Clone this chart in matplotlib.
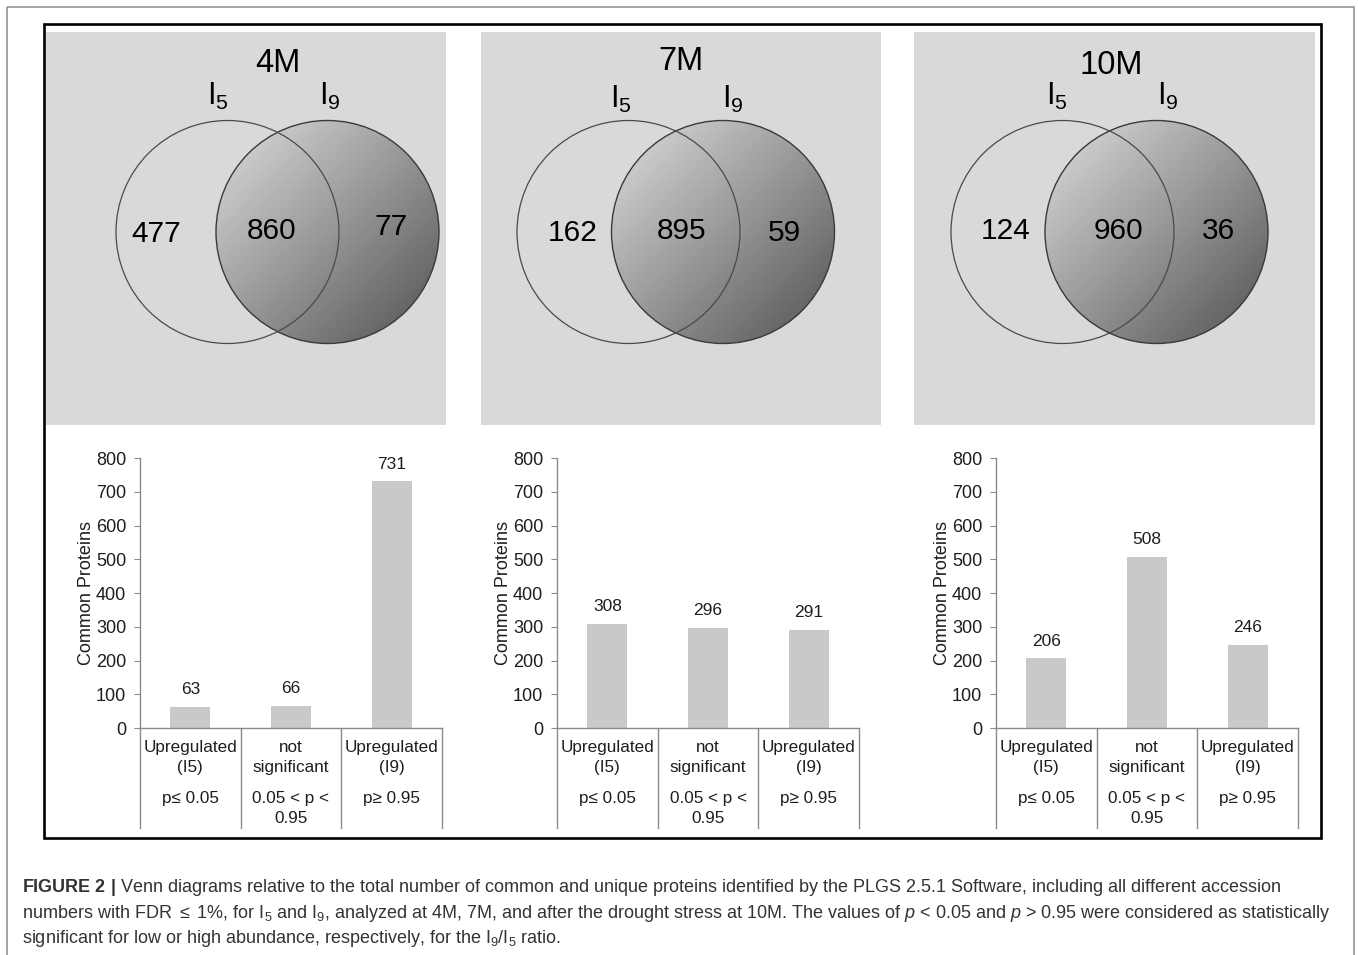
import numpy as np
import matplotlib
matplotlib.use('Agg')
import matplotlib.pyplot as plt
from matplotlib.patches import Circle, Rectangle
from matplotlib.transforms import blended_transform_factory

plt.rcParams['font.family'] = ['Liberation Sans', 'DejaVu Sans']
plt.rcParams['mathtext.fontset'] = 'custom'
plt.rcParams['mathtext.rm'] = 'Liberation Sans'
plt.rcParams['mathtext.it'] = 'Liberation Sans:italic'
plt.rcParams['mathtext.bf'] = 'Liberation Sans:bold'

# time points
months = ['4M', '7M', '10M']

# Venn counts: proteins only in I5, shared, only in I9
only_i5 = [477, 162, 124]
shared = [860, 895, 960]
only_i9 = [77, 59, 36]

# common proteins split by abundance ratio
categories = ['Upregulated\n(I5)', 'not\nsignificant', 'Upregulated\n(I9)']
p_ranges = ['p\u2264 0.05', '0.05 < p <\n0.95', 'p\u2265 0.95']
up_i5 = [63, 308, 206]
not_sig = [66, 296, 508]
up_i9 = [731, 291, 246]

W, H = 1358, 955
fig = plt.figure(figsize=(W / 100, H / 100), dpi=100)

# background canvas in pixel units (y grows downward)
canvas = fig.add_axes([0, 0, 1, 1])
canvas.set_xlim(0, W)
canvas.set_ylim(H, 0)
canvas.axis('off')

canvas.add_patch(Rectangle((7, 7), 1347, 1000, fill=False, ec='#8c8c8c', lw=1.1))
canvas.add_patch(Rectangle((43.5, 24.5), 1277.5, 813.5, fill=False, ec='black', lw=1.9, zorder=5))

# layout of each Venn panel (pixels)
panel_x = [46, 481, 914]
panel_w = [400, 400, 401]
left_cx = [227.5, 628.5, 1062.5]
right_cx = [327.5, 723.0, 1156.5]
circle_cy = 232
radius = 111.5
title_pos = [(278, 64), (681, 62), (1111, 65)]
i5_pos = [(218, 96), (621, 99), (1057, 96)]
i9_pos = [(330, 96), (733, 99), (1168, 96)]
n5_pos = [(156, 234), (573, 233), (1006, 231)]
nsh_pos = [(272, 231), (682, 231), (1118, 231)]
n9_pos = [(391, 227), (784, 233), (1218, 231)]

for k in range(3):
    canvas.add_patch(Rectangle((panel_x[k], 32), panel_w[k], 393, color='#d9d9d9', lw=0))

    # I9 circle with diagonal grey gradient
    cx = right_cx[k]
    x0, x1 = cx - radius, cx + radius
    y0, y1 = circle_cy - radius, circle_cy + radius
    xs = np.linspace(x0, x1, 200)
    ys = np.linspace(y0, y1, 200)
    X, Y = np.meshgrid(xs, ys)
    t = ((X - x0) + (Y - y0)) / (4 * radius)
    shade = 0.87 - 0.55 * t
    clip = Circle((cx, circle_cy), radius, fc='none', ec='none')
    canvas.add_patch(clip)
    im = canvas.imshow(shade, cmap='gray', vmin=0, vmax=1, extent=(x0, x1, y0, y1),
                       origin='lower', interpolation='bilinear', zorder=2)
    im.set_clip_path(clip)
    canvas.add_patch(Circle((cx, circle_cy), radius, fc='none', ec='#3a3a3a', lw=1.0, zorder=3))
    canvas.add_patch(Circle((left_cx[k], circle_cy), radius, fc='none', ec='#4a4a4a', lw=0.9, zorder=3))
    canvas.set_xlim(0, W)
    canvas.set_ylim(H, 0)
    canvas.set_aspect('auto')

    canvas.text(*title_pos[k], months[k], fontsize=23.5, ha='center', va='center', zorder=4)
    canvas.text(*i5_pos[k], r'$\mathregular{I_5}$', fontsize=22, ha='center', va='center', zorder=4)
    canvas.text(*i9_pos[k], r'$\mathregular{I_9}$', fontsize=22, ha='center', va='center', zorder=4)
    canvas.text(*n5_pos[k], str(only_i5[k]), fontsize=21.5, ha='center', va='center', zorder=4)
    canvas.text(*nsh_pos[k], str(shared[k]), fontsize=21.5, ha='center', va='center', zorder=4)
    canvas.text(*n9_pos[k], str(only_i9[k]), fontsize=21.5, ha='center', va='center', zorder=4)

# bar charts of common proteins
axis_left = [140, 557, 996]
axis_w = 302
axis_top, axis_bottom = 458, 728
axis_h = axis_bottom - axis_top


def yfrac(py):
    return (axis_bottom - py) / axis_h


txt_color = '#1e1e1e'
for k in range(3):
    ax = fig.add_axes([axis_left[k] / W, (H - axis_bottom) / H, axis_w / W, axis_h / H])
    ax.patch.set_alpha(0)
    vals = [up_i5[k], not_sig[k], up_i9[k]]
    bars = ax.bar(range(3), vals, width=0.4, color='#c9c9c9')
    ax.bar_label(bars, padding=7, fontsize=12.5, color=txt_color)
    ax.set_xlim(-0.5, 2.5)
    ax.set_ylim(0, 800)
    ax.set_yticks(range(0, 801, 100))
    ax.set_xticks([])
    for side in ['top', 'right']:
        ax.spines[side].set_visible(False)
    for side in ['left', 'bottom']:
        ax.spines[side].set_color('#8a8a8a')
        ax.spines[side].set_linewidth(1.0)
    ax.tick_params(axis='y', length=4, color='#8a8a8a', labelsize=13,
                   labelcolor=txt_color, pad=6)
    ax.set_ylabel('Common Proteins', fontsize=13, color=txt_color, labelpad=0.5)

    tr = blended_transform_factory(ax.transData, ax.transAxes)
    for xd in [-0.5, 0.5, 1.5, 2.5]:
        ax.plot([xd, xd], [0, yfrac(828)], color='#8a8a8a', lw=1.0,
                transform=tr, clip_on=False)
    for i in range(3):
        ax.text(i, yfrac(740), categories[i], transform=tr, ha='center', va='top',
                fontsize=12.3, color=txt_color, linespacing=1.4)
        ax.text(i, yfrac(791), p_ranges[i], transform=tr, ha='center', va='top',
                fontsize=12.3, color=txt_color, linespacing=1.4)

# caption
cap_color = '#333333'
caption = [
    r'$\mathbf{FIGURE\ 2\ |}$ Venn diagrams relative to the total number of common and unique '
    r'proteins identified by the PLGS 2.5.1 Software, including all different accession',
    r'numbers with FDR $\leq$ 1%, for $\mathregular{I_5}$ and $\mathregular{I_9}$, analyzed at 4M, 7M, '
    r'and after the drought stress at 10M. The values of $\mathit{p}$ < 0.05 and $\mathit{p}$ > 0.95 '
    r'were considered as statistically',
    r'significant for low or high abundance, respectively, for the '
    r'$\mathregular{I_9/I_5}$ ratio.',
]
for line, yc in zip(caption, [887, 913, 938]):
    canvas.text(22, yc, line, fontsize=13.0, color=cap_color, ha='left', va='center')

fig.savefig('out.png', dpi=100)
